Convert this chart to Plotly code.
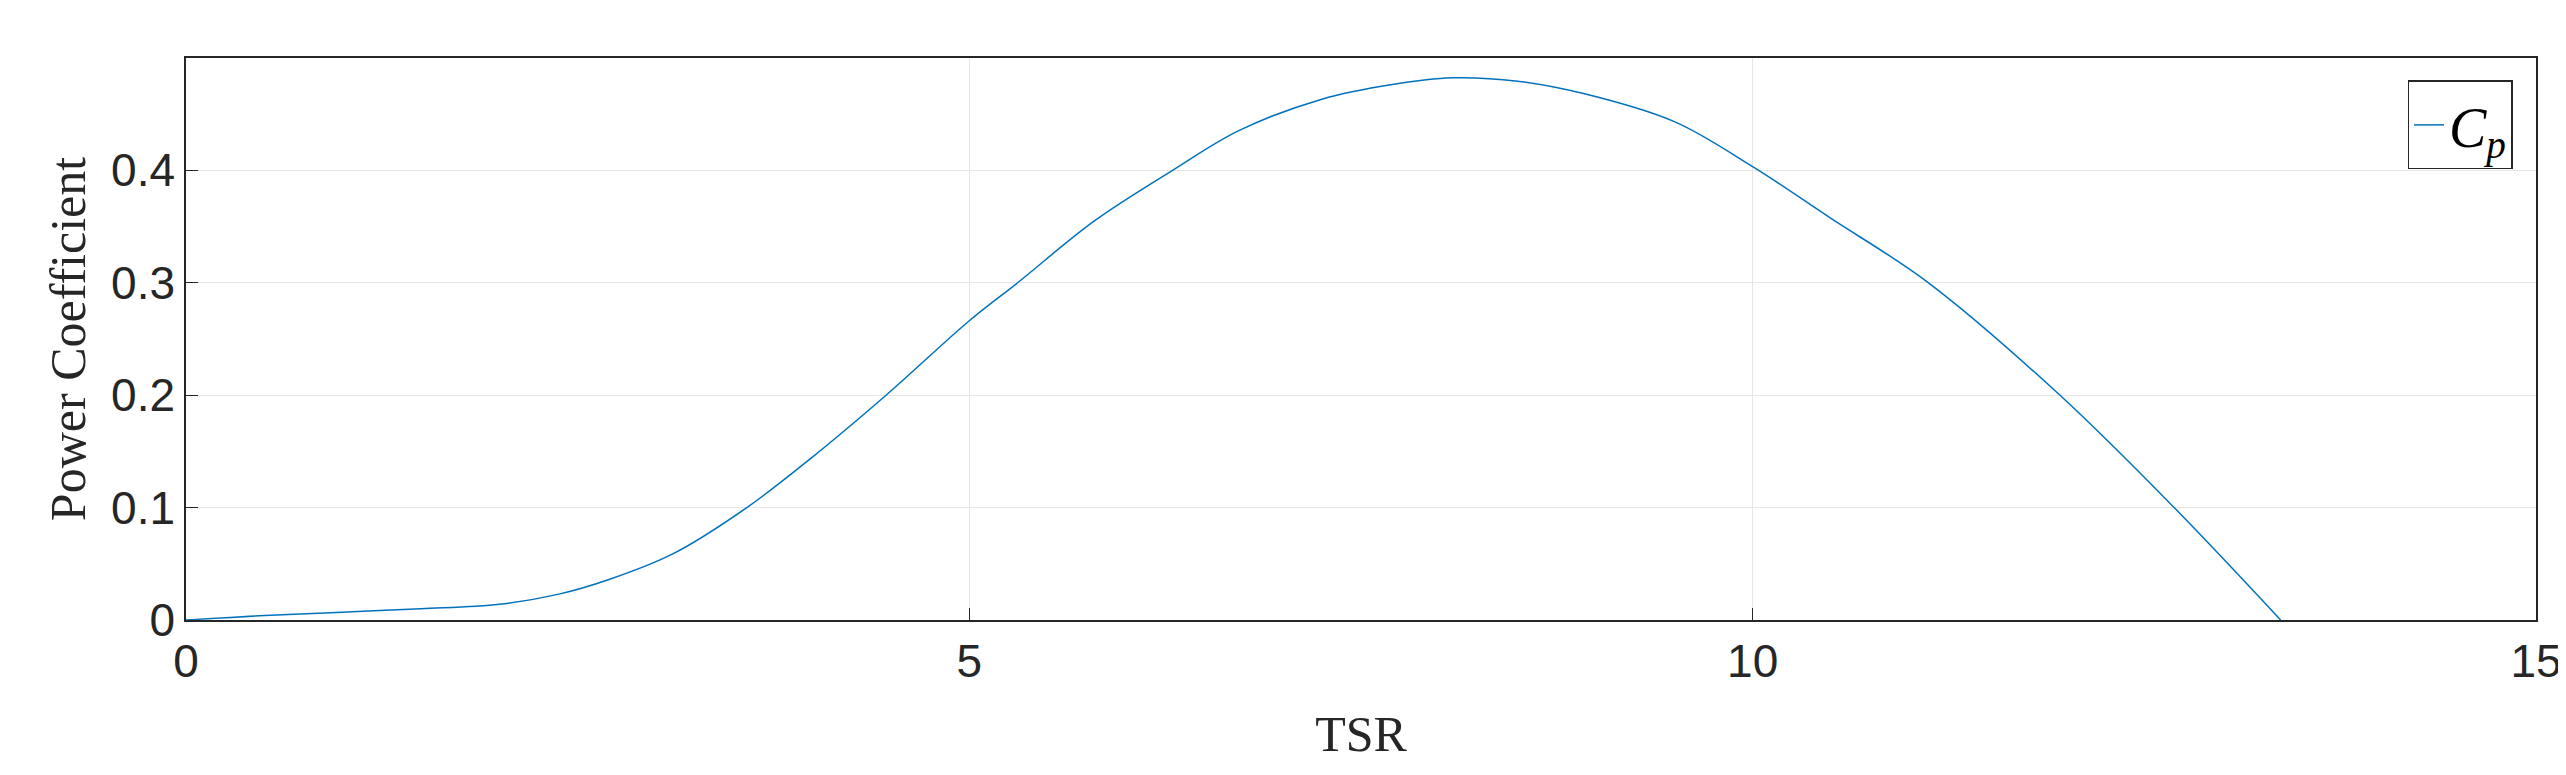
import plotly.graph_objects as go

# TSR vs Cp
tsr = [0, 0.5, 1, 1.5, 2, 2.38, 2.7, 3.11, 3.58, 4.0, 4.47, 5.0, 5.31, 5.8, 6.3, 6.72, 7.25, 7.7, 8.08, 8.5, 8.92, 9.5, 10.0, 10.5, 11.12, 11.96, 12.69, 13.37]
cp = [0, 0.004, 0.007, 0.010, 0.014, 0.023, 0.036, 0.059, 0.100, 0.145, 0.200, 0.266, 0.300, 0.355, 0.400, 0.435, 0.463, 0.476, 0.482, 0.479, 0.468, 0.443, 0.403, 0.357, 0.300, 0.200, 0.100, 0.0]

fig = go.Figure()
fig.add_trace(go.Scatter(x=tsr, y=cp, mode="lines", name="<i>C</i><sub><i>p</i></sub>",
                         line=dict(color="#0072BD", width=1.5, shape="spline", smoothing=1.0)))

axis_common = dict(showline=True, linecolor="#262626", linewidth=1.5, mirror=True,
                   showgrid=True, gridcolor="#e6e6e6", gridwidth=1,
                   ticks="inside", ticklen=12, tickcolor="#262626", zeroline=False,
                   tickfont=dict(family="Liberation Sans", size=46, color="#262626"))

fig.update_xaxes(range=[0, 15], dtick=5,
                 title=dict(text="TSR", standoff=30, font=dict(family="Liberation Serif", size=50, color="#262626")), **axis_common)
fig.update_yaxes(range=[0, 0.4996], tickvals=[0, 0.1, 0.2, 0.3, 0.4], ticktext=["0", "0.1", "0.2", "0.3", "0.4"],
                 title=dict(text="Power Coefficient", standoff=10, font=dict(family="Liberation Serif", size=50, color="#262626")), **axis_common)

fig.update_layout(width=2566, height=775, plot_bgcolor="white", paper_bgcolor="white",
                  showlegend=True,
                  margin=dict(l=178, r=33, t=50, b=163),
                  legend=dict(x=0.99, y=0.96, xanchor="right", yanchor="top", bordercolor="#262626", borderwidth=1.5,
                              font=dict(family="Liberation Serif", size=56, color="black"), bgcolor="white"))

fig.write_html("out.html")
